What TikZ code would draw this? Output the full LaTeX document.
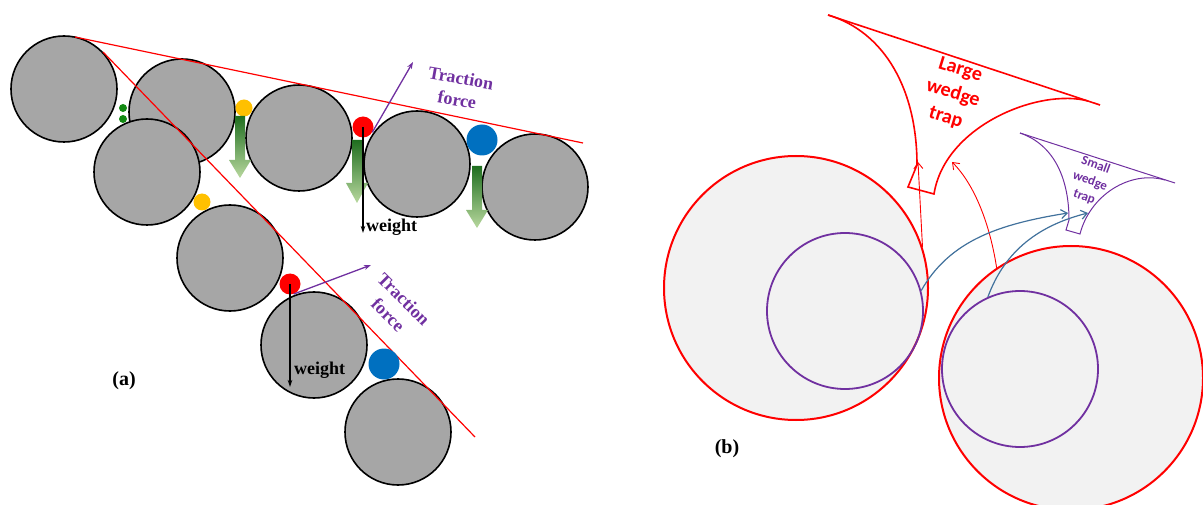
\documentclass[tikz,border=0pt]{standalone}
\usepackage{fontspec}
\newfontfamily\carlito{Carlito}
\newfontfamily\lserif{Liberation Serif}
\usetikzlibrary{arrows.meta}
\definecolor{ballgray}{HTML}{A6A6A6}
\definecolor{ballyellow}{HTML}{FFC000}
\definecolor{ballgreen}{HTML}{138A13}
\definecolor{ballred}{HTML}{FF0000}
\definecolor{ballblue}{HTML}{0070C0}
\definecolor{tracpurple}{HTML}{7030A0}
\definecolor{wedgered}{HTML}{FF0000}
\definecolor{lightfill}{HTML}{F2F2F2}
\definecolor{arrowblue}{HTML}{41719C}
\definecolor{gdark}{HTML}{1F6E1F}
\definecolor{glight}{HTML}{B8D89E}
\tikzset{
  grain/.style={circle, draw=black, line width=1.6pt, fill=ballgray, minimum size=106pt, inner sep=0pt},
  ball/.style={circle, inner sep=0pt, draw=none},
  tangent/.style={draw=wedgered, line width=1.2pt},
  weightarrow/.style={draw=black, line width=1.3pt, -{Stealth[length=7pt,width=4.5pt]}},
  tracarrow/.style={draw=tracpurple, line width=1.3pt, -{Stealth[length=7pt,width=5pt]}},
  lbl/.style={font=\lserif\bfseries\fontsize{18}{21}\selectfont, inner sep=0pt},
  traclbl/.style={font=\lserif\bfseries\fontsize{18}{22}\selectfont, text=tracpurple, align=center, inner sep=0pt},
  panellbl/.style={font=\lserif\bfseries\fontsize{20}{24}\selectfont, inner sep=0pt},
  bigcircle/.style={circle, draw=wedgered, line width=2pt, fill=lightfill, minimum size=264pt, inner sep=0pt},
  innercircle/.style={circle, draw=tracpurple, line width=1.8pt, minimum size=156pt, inner sep=0pt},
  wedgeline/.style={draw=wedgered, line width=1.6pt, line join=miter},
  smallwedgeline/.style={draw=tracpurple, line width=1pt, line join=miter},
  redarrow/.style={draw=wedgered, line width=0.9pt, -{Straight Barb[length=6pt,width=9pt]}},
  bluearrow/.style={draw=arrowblue, line width=1.2pt, -{Straight Barb[length=6pt,width=9pt]}},
  gravity/.style={top color=gdark, bottom color=glight, draw=none}
}
\begin{document}
\begin{tikzpicture}[x=1pt,y=-1pt]
\useasboundingbox (0,0) rectangle (1203,505);

% ---------- panel (a) ----------
\node[grain] (c1) at (64,89) {};
\node[grain] (c2) at (182,112) {};
\node[grain] (c3) at (147,172) {};
\node[grain] (c4) at (299,138) {};
\node[grain] (c5) at (417,164) {};
\node[grain] (c6) at (535,187) {};
\node[grain] (c7) at (230,258) {};
\node[grain] (c8) at (314,345) {};
\node[grain] (c9) at (398,432) {};

% tangent lines
\coordinate (t1a) at (75,37);
\coordinate (t1b) at (583,143);
\coordinate (t2a) at (103,52);
\coordinate (t2b) at (475,437);
\draw[tangent] (t1a) -- (t1b);
\draw[tangent] (t2a) -- (t2b);

% small particles
\node[ball, fill=ballgreen, minimum size=8pt] (g1) at (123,108) {};
\node[ball, fill=ballgreen, minimum size=8pt] (g2) at (123,119) {};
\node[ball, fill=ballyellow, minimum size=17pt] (y1) at (244,108) {};
\node[ball, fill=ballyellow, minimum size=17pt] (y2) at (202,202) {};
\node[ball, fill=ballred, minimum size=21pt] (rb1) at (363,127) {};
\node[ball, fill=ballblue, minimum size=31pt] (bb1) at (482,140) {};
\node[ball, fill=ballred, minimum size=21pt] (rb2) at (290,284) {};
\node[ball, fill=ballblue, minimum size=31pt] (bb2) at (384,364) {};

% gravity arrows (gradient)
\shade[gravity] (235,116) -- (245,116) -- (245,160) -- (251,160) -- (240,178) -- (229,160) -- (235,160) -- cycle;
\shade[gravity] (352,140) -- (363,140) -- (363,183) -- (368,183) -- (357,203) -- (346,183) -- (352,183) -- cycle;
\shade[gravity] (472,166) -- (482,166) -- (482,210) -- (488,210) -- (477,228) -- (466,210) -- (472,210) -- cycle;

% weight arrows
\coordinate (w1) at (363,233);
\coordinate (w2) at (290,387);
\draw[weightarrow] (rb1.center) -- (w1);
\draw[weightarrow] (rb2.center) -- (w2);
\node[lbl, anchor=west] (wl1) at (366,227) {weight};
\node[lbl, anchor=west] (wl2) at (294,370) {weight};

% traction arrows
\coordinate (tr1) at (413,62);
\coordinate (tr2) at (371,265);
\draw[tracarrow] (rb1.-30) -- (tr1);
\draw[tracarrow] (rb2.-70) -- (tr2);
\node[traclbl, rotate=-10] (tl1) at (459,89) {Traction\\force};
\node[traclbl, rotate=-45] (tl2) at (396,307) {Traction\\force};

\node[panellbl] (la) at (124,381) {(a)};

% ---------- panel (b) ----------
\node[bigcircle] (cl) at (796,288) {};
\node[innercircle] (pl) at (845,311) {};
\node[bigcircle] (cr) at (1071,378) {};
\node[innercircle] (pr) at (1020,369) {};

% large wedge trap
\draw[wedgeline] (828,15) -- (1100,105);
\draw[wedgeline] (828,15) .. controls (885,32) and (917,90) .. (917,165)
  -- (908,187) -- (934,194) .. controls (945,125) and (1040,88) .. (1088,101);
\node[font=\carlito\bfseries\fontsize{20}{25}\selectfont, text=wedgered, align=center, rotate=-17, inner sep=0pt] (lwt) at (953,94) {Large\\wedge\\trap};

% small wedge trap
\draw[smallwedgeline] (1020,133) -- (1175,183);
\draw[smallwedgeline] (1020,133) .. controls (1055,145) and (1069,180) .. (1069,220)
  -- (1066,230) -- (1080,234) .. controls (1090,195) and (1130,170) .. (1165,180);
\node[font=\carlito\bfseries\fontsize{13}{17}\selectfont, text=tracpurple, align=center, rotate=-20, inner sep=0pt] (swt) at (1090,181) {Small\\wedge\\trap};

% arrows into traps
\coordinate (lw1) at (918,162);
\coordinate (lw2) at (952,162);
\coordinate (sw1) at (1068,213);
\coordinate (sw2) at (1088,213);
\draw[redarrow] (cl.18) -- (lw1);
\draw[redarrow] (cr.124) .. controls (990,225) and (975,185) .. (lw2);
\draw[bluearrow] (pl.15) .. controls (950,240) and (1000,224) .. (sw1);
\draw[bluearrow] (pr.114) .. controls (1005,250) and (1040,225) .. (sw2);

\node[panellbl] (lb) at (727,449) {(b)};
\end{tikzpicture}
\end{document}
